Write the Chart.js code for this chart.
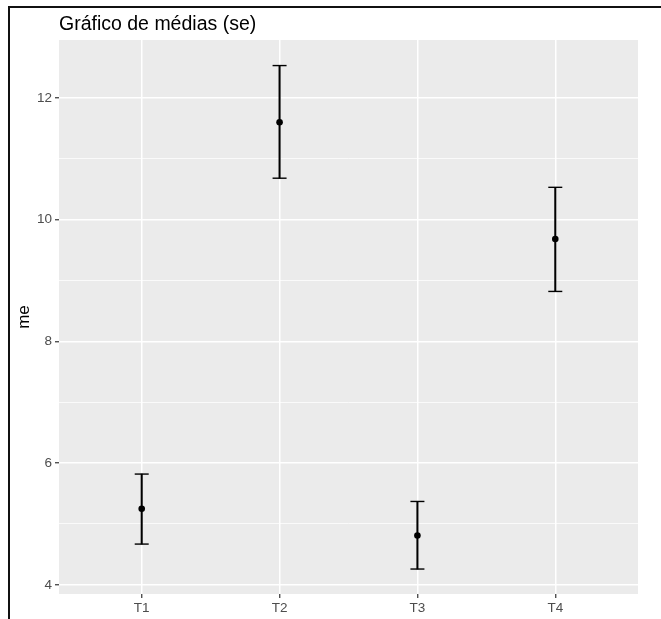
<!DOCTYPE html>
<html>
<head>
<meta charset="utf-8">
<script src="https://cdn.jsdelivr.net/npm/chart.js@4"></script>
<style>
  body { margin: 0; background: #fff; }
  #wrap { position: relative; width: 661px; height: 619px; overflow: hidden; }
  #frame { position: absolute; left: 8px; top: 6px; right: 0; bottom: 0;
           border-left: 2px solid #111; border-top: 2px solid #111; pointer-events: none; }
  canvas { position: absolute; left: 0; top: 0; }
</style>
</head>
<body>
<div id="wrap">
  <canvas id="chart" width="661" height="619"></canvas>
  <div id="frame"></div>
</div>
<script>
const categories = ['T1', 'T2', 'T3', 'T4'];
const means = [5.25, 11.60, 4.81, 9.68];
const upper = [5.82, 12.53, 5.37, 10.53];
const lower = [4.67, 10.68, 4.26, 8.82];
const yTicks = [4, 6, 8, 10, 12];
const yMinor = [5, 7, 9, 11];

const fontFam = "'Liberation Sans', Arial, sans-serif";

// grey panel behind the grid
const panelBg = {
  id: 'panelBg',
  beforeDraw(chart) {
    const { ctx, chartArea: a } = chart;
    ctx.save();
    ctx.fillStyle = '#EBEBEB';
    ctx.fillRect(a.left, a.top, a.right - a.left, a.bottom - a.top);
    ctx.restore();
  }
};

const isMajor = v => yTicks.includes(v);

const ctx = document.getElementById('chart').getContext('2d');
new Chart(ctx, {
  type: 'bar',
  data: {
    datasets: [
      {
        type: 'scatter',
        data: categories.map((c, i) => ({ x: i + 1, y: means[i] })),
        pointRadius: 3.3,
        pointBackgroundColor: '#000',
        pointBorderWidth: 0
      },
      {
        type: 'scatter',
        data: categories.map((c, i) => ({ x: i + 1, y: upper[i] }))
          .concat(categories.map((c, i) => ({ x: i + 1, y: lower[i] }))),
        pointStyle: 'line',
        pointRadius: 7,
        pointBorderColor: '#000',
        pointBorderWidth: 1.4
      },
      {
        type: 'bar',
        data: categories.map((c, i) => ({ x: i + 1, y: [lower[i], upper[i]] })),
        barThickness: 1.4,
        backgroundColor: '#000',
        borderWidth: 0
      }
    ]
  },
  options: {
    responsive: false,
    animation: false,
    layout: { padding: { left: 10, right: 23, top: 0, bottom: 0 } },
    plugins: {
      legend: { display: false },
      tooltip: { enabled: false },
      title: {
        display: true,
        text: 'Gráfico de médias (se)',
        align: 'start',
        fullSize: false,
        color: '#000',
        font: { family: fontFam, size: 19.5, weight: 'normal' },
        padding: { top: 13, bottom: 3.6 }
      }
    },
    scales: {
      x: {
        type: 'linear',
        min: 0.4,
        max: 4.6,
        offset: false,
        afterBuildTicks: s => { s.ticks = categories.map((c, i) => ({ value: i + 1 })); },
        afterFit: s => { s.height = 25; },
        ticks: {
          autoSkip: false,
          maxRotation: 0,
          padding: 2,
          color: '#4D4D4D',
          font: { family: fontFam, size: 13.5 },
          callback: v => categories[v - 1]
        },
        grid: {
          offset: false,
          color: '#FFFFFF',
          lineWidth: 1.5,
          tickLength: 4,
          tickColor: '#333333',
          tickWidth: 1.2
        },
        border: { display: false }
      },
      y: {
        type: 'linear',
        min: 3.85,
        max: 12.95,
        afterBuildTicks: s => {
          s.ticks = yTicks.concat(yMinor).sort((a, b) => a - b).map(v => ({ value: v }));
        },
        afterFit: s => { s.width = 49; },
        title: {
          display: true,
          text: 'me',
          color: '#000',
          font: { family: fontFam, size: 17 },
          padding: { top: 4, bottom: 0 }
        },
        ticks: {
          autoSkip: false,
          padding: 3,
          color: '#4D4D4D',
          font: { family: fontFam, size: 13.5 },
          callback: v => isMajor(v) ? String(v) : ''
        },
        grid: {
          color: '#FFFFFF',
          lineWidth: c => (c.tick && isMajor(c.tick.value)) ? 1.5 : 0.75,
          tickLength: 4,
          tickColor: c => (c.tick && isMajor(c.tick.value)) ? '#333333' : 'rgba(0,0,0,0)',
          tickWidth: 1.2
        },
        border: { display: false }
      }
    }
  },
  plugins: [panelBg]
});
</script>
</body>
</html>
